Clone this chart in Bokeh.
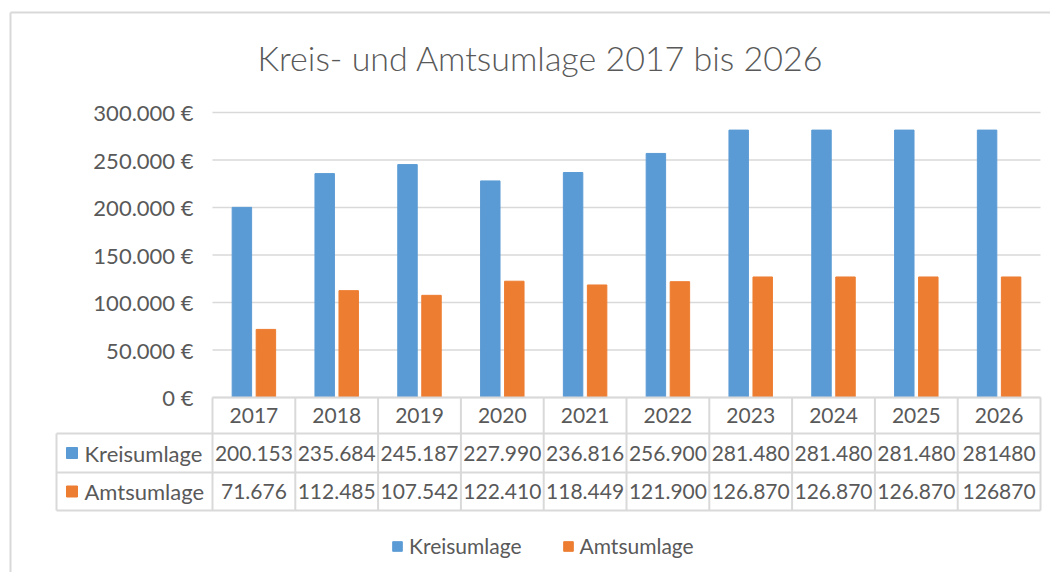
from bokeh.plotting import figure
from bokeh.models import Range1d, Legend, LegendItem, ColumnDataSource
from bokeh.core.properties import value
from bokeh.transform import dodge
from bokeh.embed import file_html
from bokeh.resources import INLINE

# ---------------- data ----------------
years = ["2017", "2018", "2019", "2020", "2021", "2022", "2023", "2024", "2025", "2026"]
kreisumlage = [200153, 235684, 245187, 227990, 236816, 256900, 281480, 281480, 281480, 281480]
amtsumlage = [71676, 112485, 107542, 122410, 118449, 121900, 126870, 126870, 126870, 126870]
series_names = ["Kreisumlage", "Amtsumlage"]
y_ticks = [0, 50000, 100000, 150000, 200000, 250000, 300000]
title_text = "Kreis- und Amtsumlage 2017 bis 2026"
unseparated_years = ["2026"]   # the source table shows these without thousands separator

# ---------------- style ----------------
BLUE = "#5B9BD5"
ORANGE = "#ED7D31"
TEXT = "#595959"
LINE = "#D9D9D9"
FONT = "Lato"
TITLE_FONT = "Lato Light"

# page geometry (pixels on the page)
PAGE_L, PAGE_T = 0, 0
W, H = 1050, 572
PLOT_L, PLOT_R = 212, 1040
PLOT_TOP_PX, ZERO_PX = 112, 397
YMAX = y_ticks[-1]

n = len(years)
unit = (PLOT_R - PLOT_L) / n
x_start = -(PLOT_L - PAGE_L) / unit
x_end = n + (PAGE_L + W - PLOT_R) / unit
ppu = (ZERO_PX - PLOT_TOP_PX) / YMAX
y_end = (ZERO_PX - PAGE_T) / ppu
y_start = -(PAGE_T + H - ZERO_PX) / ppu


def de_num(v):
    return f"{v:,}".replace(",", ".")


def euro(v):
    return de_num(v) + "\u00a0€"


p = figure(width=W, height=H,
           x_range=Range1d(x_start, x_end), y_range=Range1d(y_start, y_end),
           output_backend="svg", toolbar_location=None, min_border=0,
           x_axis_location=None, y_axis_location=None,
           outline_line_color=None, background_fill_color="white",
           border_fill_color="white")
p.grid.visible = False
p.extra_x_ranges = {"px": Range1d(PAGE_L, PAGE_L + W)}
p.extra_y_ranges = {"py": Range1d(PAGE_T + H, PAGE_T)}

# chart border (left and top visible)
p.segment(x0=[10, 10], y0=[12, 12], x1=[10, 1060], y1=[590, 12],
          x_range_name="px", y_range_name="py", line_color=LINE, line_width=2)

# horizontal gridlines
p.segment(x0=0, x1=n, y0=y_ticks, y1=y_ticks, line_color=LINE, line_width=1.5)

# bars
src = ColumnDataSource(dict(x=[i + 0.5 for i in range(n)], k=kreisumlage, a=amtsumlage))
r1 = p.vbar(x=dodge("x", -0.145), top="k", width=0.235, source=src,
            fill_color=BLUE, line_color=BLUE)
r2 = p.vbar(x=dodge("x", 0.145), top="a", width=0.235, source=src,
            fill_color=ORANGE, line_color=ORANGE)

txt = dict(text_font=value(FONT), text_color=TEXT)

# y tick labels
p.text(x=[193] * len(y_ticks), y=y_ticks, text=[euro(v) if v else "0\u00a0€" for v in y_ticks],
       x_range_name="px", text_align="right", text_baseline="middle",
       text_font_size="22px", **txt)

# title
p.text(x=[540], y=[57], text=[title_text], x_range_name="px", y_range_name="py",
       text_align="center", text_baseline="middle", text_font_size="34px",
       text_font=value(TITLE_FONT), text_color=TEXT)

# ---------------- data table ----------------
ROW_HEAD, ROW1, ROW2 = (397, 433), (433, 472), (472, 510)
TABLE_L = 56
centers = [i + 0.5 for i in range(n)]
FS = "21px"

# table lines
for y in (ROW_HEAD[1], ROW1[1], ROW2[1]):
    p.segment(x0=[TABLE_L], x1=[PLOT_R], y0=[y], y1=[y], x_range_name="px",
              y_range_name="py", line_color=LINE, line_width=2)
p.segment(x0=[0], x1=[n], y0=[ROW_HEAD[0]], y1=[ROW_HEAD[0]], y_range_name="py",
          line_color=LINE, line_width=2)
p.segment(x0=list(range(n + 1)), x1=list(range(n + 1)), y0=[ROW_HEAD[0]] * (n + 1),
          y1=[ROW2[1]] * (n + 1), y_range_name="py", line_color=LINE, line_width=2)
p.segment(x0=[TABLE_L], x1=[TABLE_L], y0=[ROW1[0]], y1=[ROW2[1]], x_range_name="px",
          y_range_name="py", line_color=LINE, line_width=2)

# header: years
p.text(x=centers, y=[sum(ROW_HEAD) / 2] * n, text=years, y_range_name="py",
       text_align="center", text_baseline="middle", text_font_size=FS, **txt)

# values
for vals, row in ((kreisumlage, ROW1), (amtsumlage, ROW2)):
    labels = [str(v) if yr in unseparated_years else de_num(v) for v, yr in zip(vals, years)]
    p.text(x=centers, y=[sum(row) / 2] * n, text=labels, y_range_name="py",
           text_align="center", text_baseline="middle", text_font_size=FS, **txt)

# row labels with legend keys
p.scatter(x=[71.5, 71.5], y=[sum(ROW1) / 2, sum(ROW2) / 2], marker="square", size=11,
          color=[BLUE, ORANGE], x_range_name="px", y_range_name="py")
p.text(x=[84, 84], y=[sum(ROW1) / 2, sum(ROW2) / 2], text=series_names,
       x_range_name="px", y_range_name="py", text_align="left", text_baseline="middle",
       text_font_size="22px", **txt)

# legend
legend = Legend(items=[LegendItem(label=series_names[0], renderers=[r1]),
                       LegendItem(label=series_names[1], renderers=[r2])],
                location=(391, 14), orientation="horizontal",
                glyph_width=12, glyph_height=12, label_standoff=6, spacing=40,
                padding=0, margin=0, border_line_alpha=0, background_fill_alpha=0,
                label_text_font=FONT, label_text_font_size=FS,
                label_text_color=TEXT)
p.add_layout(legend)

open("out.html", "w").write(file_html(p, INLINE))
